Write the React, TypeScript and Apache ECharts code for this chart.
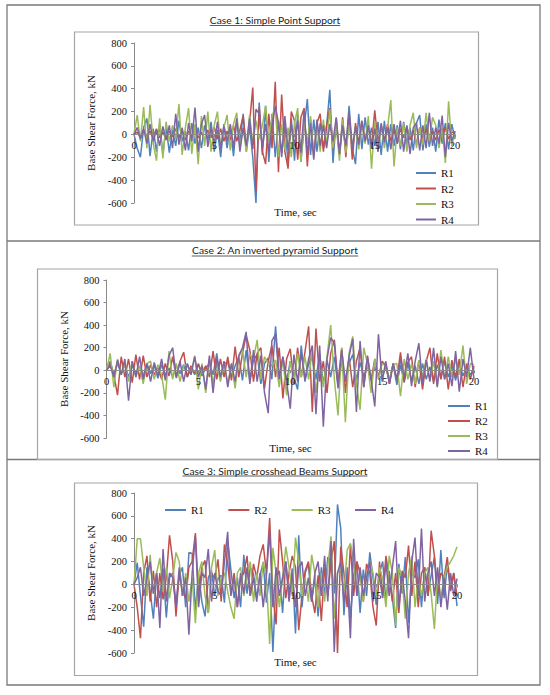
import React, { useEffect, useRef } from "react";
import * as echarts from "echarts";

const TIME = [0,0.2,0.4,0.6,0.8,1,1.2,1.4,1.6,1.8,2,2.2,2.4,2.6,2.8,3,3.2,3.4,3.6,3.8,4,4.2,4.4,4.6,4.8,5,5.2,5.4,5.6,5.8,6,6.2,6.4,6.6,6.8,7,7.2,7.4,7.6,7.8,8,8.2,8.4,8.6,8.8,9,9.2,9.4,9.6,9.8,10,10.2,10.4,10.6,10.8,11,11.2,11.4,11.6,11.8,12,12.2,12.4,12.6,12.8,13,13.2,13.4,13.6,13.8,14,14.2,14.4,14.6,14.8,15,15.2,15.4,15.6,15.8,16,16.2,16.4,16.6,16.8,17,17.2,17.4,17.6,17.8,18,18.2,18.4,18.6,18.8,19,19.2,19.4,19.6,19.8,20];

const SERIES_NAMES = ["R1", "R2", "R3", "R4"];
const COLORS = ["#4F81BD", "#C0504D", "#9BBB59", "#8064A2"];
const TITLES = ["Case 1: Simple Point Support", "Case 2: An inverted pyramid Support", "Case 3: Simple crosshead Beams Support"];
const X_TITLE = "Time, sec";
const Y_TITLE = "Base Shear Force, kN";

// Case 1
const C1_R1 = [0,-120,-200,60,140,-190,50,-150,90,-180, 70,-160,40,-100,120,-60,30,-140,100,-80, 60,-120,80,-50,110,-150,40,-200,90,-120, 60,-190,130,-80,180,-150,70,-200,-600,280, -180,250,-240,180,-200,120,-160,90,-250,140, -230,180,-240,60,310,-180,130,-150,100,-120, 70,390,-250,140,-180,90,-140,250,-120,-260, 180,-130,150,-90,60,-100,110,-180,120,-150, 90,-100,80,-130,110,-90,60,-140,100,170, -140,90,-110,60,-150,130,-80,100,-130,90,-40];
const C1_R2 = [0,20,-30,40,-20,30,-40,50,-30,20, -40,30,-20,50,-30,40,-50,30,-20,40, -30,20,-50,40,-30,60,-40,50,-60,30, -50,80,-60,40,160,-120,100,410,-500,240, -150,-260,180,-120,460,-330,350,-150,-300,200, 120,-220,150,230,-280,130,-180,100,180,-150, 80,230,-130,90,-180,150,-200,190,-220,100, -80,120,-60,80,-100,210,-70,60,-50,90, -60,40,-80,50,-30,70,-50,40,-90,60, -40,50,-60,30,-50,40,-30,60,-40,20,10];
const C1_R3 = [0,170,-60,240,-120,260,-80,-230,140,-210, 110,-60,80,-40,265,-180,60,230,-170,90, -260,160,-100,200,-150,80,200,-120,60,170, -140,90,190,-110,60,-150,170,-80,120,-40, 80,250,-60,150,250,-200,90,-130,60,-200, 100,230,-240,120,-80,160,-200,90,-150,130, -100,220,-120,90,-230,130,-160,80,-100,60, -130,100,-80,160,-300,120,-150,90,-120,60, 300,-280,60,-100,100,-150,80,190,-120,60, -90,190,-60,150,80,-120,60,-250,290,-100,20];
const C1_R4 = [0,60,-40,50,-80,90,-60,40,-100,70, -50,80,-120,180,-90,60,-140,100,-60,235, -150,90,170,-110,60,-80,110,-130,70,-60, 90,-120,140,-150,60,-100,140,-130,220,180, -120,90,-150,80,250,100,-200,160,-140,90, -100,120,-160,210,-180,100,-220,130,-100,80, -120,90,-60,150,-170,80,-100,190,-130,70, -90,110,-60,80,-120,50,-150,100,-70,60, -130,90,-80,120,-150,80,-170,60,100,-140, 80,-120,190,-100,60,-80,165,-200,100,-60,30];

// Case 2
const C2_R1 = [0,80,-40,60,-30,50,-60,40,-20,30, -50,60,-30,40,-70,50,-40,20,-60,40, -30,50,-60,30,-40,60,-50,20,60,-40, 150,-80,60,70,-60,40,120,-90,180,-100, 90,140,-120,60,110,-80,390,-60,120,-100, 80,-60,-170,220,-100,60,110,-80,150,-120, 90,-60,120,-140,80,-100,60,140,-90,70, -60,40,-80,30,-50,-70,40,-100,60,-130, 50,-110,70,-90,40,-120,60,-80,30,-100, 50,-70,80,-60,40,-90,60,-50,30,-40,20];
const C2_R2 = [0,60,-40,-220,120,-60,100,-110,140,-80, 130,-60,50,-40,30,-80,60,-50,120,-70, 80,160,-60,40,-30,50,-20,40,-60,170, -80,100,-60,120,-90,210,-60,150,310,180, -100,150,200,-160,80,220,-60,200,-250,100, 190,-120,200,-60,160,390,-370,370,-100,80, -200,150,270,-120,200,-200,120,-150,80,200, -150,130,-90,100,-60,80,40,-120,60,-80, 160,-100,70,120,-150,90,-170,80,200,-120, 150,-80,120,-170,90,-60,100,-150,60,-80,40];
const C2_R3 = [0,150,-150,100,-40,60,-100,80,-60,40, -120,60,80,-80,50,-40,-260,170,-80,60, -100,40,50,-30,130,-170,60,-200,100,-120, 60,-100,80,-120,60,-160,120,180,-60,140, 100,270,-80,120,60,40,90,-150,100,-220, 80,-100,150,-60,120,-80,180,-200,100,-150, 120,400,-80,-400,200,-460,150,300,-120,-350, 200,60,-200,100,-80,60,40,-80,50,60, -230,100,-80,60,-120,90,-60,100,-90,80, -140,180,-80,120,-60,100,-40,220,-120,60,50];
const C2_R4 = [0,40,-60,90,-40,100,-270,80,-60,120, -80,60,-100,70,-50,100,-90,130,200,-60, 80,-100,60,-40,120,-60,40,-170,130,-200, 110,-60,80,-150,60,-100,130,200,340,-120, 180,-100,130,-200,-380,260,320,-80,120,-100, -340,140,-100,150,-80,100,220,-390,220,-500, 100,290,240,-160,180,-100,120,280,-370,260, -150,120,-80,-320,320,-100,80,-120,60,-90, 100,-60,150,-140,80,240,-120,90,-100,200, -150,120,-80,60,-140,170,-190,100,-60,200,-80];

// Case 3
const C3_R1 = [0,190,-100,-370,150,-60,-300,100,-120,140, -290,60,100,-180,80,150,-200,280,270,-230, 100,-150,-280,60,120,-100,50,80,-160,380, 130,-120,60,-200,260,-80,150,90,-120,80, 190,-160,100,-590,60,120,-250,200,-80,140, -430,430,-200,100,180,-150,60,-280,150,-100, 240,200,-80,700,490,-270,150,-300,80,200, -250,130,-100,280,60,-180,100,200,-150,120, -120,-380,180,-80,240,-340,100,60,220,-200, 150,-100,80,240,-170,300,-120,180,-60,100,-190];
const C3_R2 = [0,-200,-470,100,250,-150,120,-200,100,-130, 60,430,200,-280,100,-60,-120,150,200,450, -100,150,210,-250,100,50,220,-150,350,180, -80,100,-200,60,100,250,-100,180,60,250, 350,100,580,-100,-350,480,200,-120,100,250, 150,-400,-100,120,200,-100,-250,80,-320,150, -100,200,380,-600,330,100,-200,350,-100,200, 100,-150,180,100,-200,-360,200,-100,250,60, -150,100,-250,120,60,340,-100,200,-200,100, 150,-100,470,250,-80,100,60,240,-50,100,-100];
const C3_R3 = [0,400,400,150,-100,260,-80,100,230,-60, 150,-120,50,280,200,-100,100,-150,60,-340, 100,200,-100,-250,150,300,-100,60,100,-60, -200,-300,100,150,-100,60,200,-150,100,-100, 200,60,-520,320,100,-200,60,330,150,-100, 410,200,-100,60,-150,260,100,-200,100,-150, 150,420,-300,100,150,-80,300,360,200,-100, 100,-150,60,200,100,-100,150,50,-200,250, 100,-360,150,60,-300,100,250,-200,60,-100, 100,150,-80,-390,100,-120,60,150,200,250,330];
const C3_R4 = [0,60,150,-100,50,200,-80,100,-380,310, -150,100,60,-200,150,-100,60,-440,100,420, -200,100,60,310,-150,100,-60,-100,200,460, -100,60,-200,100,-80,150,-100,60,-150,100, -200,80,470,-200,150,-100,60,200,-150,100, -200,150,200,-100,60,-150,100,200,-100,250, -150,380,-590,100,200,-150,60,-470,400,-100, 150,-100,60,200,-150,100,60,-120,200,-100, 150,380,-200,100,-150,-470,200,410,-100,490, -150,100,200,-100,150,-200,60,-220,100,-100,50];

const CASES = [
  [C1_R1, C1_R2, C1_R3, C1_R4],
  [C2_R1, C2_R2, C2_R3, C2_R4],
  [C3_R1, C3_R2, C3_R3, C3_R4],
];

const Y_MIN = -600;
const Y_MAX = 800;

const SERIF = "Liberation Serif";
const SANS = "Lato";
const AXIS_COLOR = "#8a8a8a";

function textWidth(s: string, font: string) {
  const c = document.createElement("canvas").getContext("2d");
  if (!c) return s.length * 5;
  c.font = font;
  return c.measureText(s).width;
}

export default function App() {
  const ref = useRef<HTMLDivElement>(null);
  useEffect(() => {
    if (!ref.current) return;
    const chart = echarts.init(ref.current, undefined, { renderer: "svg" });

    const grids = [
      { left: 134, top: 43, width: 321, height: 160 },
      { left: 106.5, top: 280, width: 367.5, height: 158 },
      { left: 134, top: 493, width: 323, height: 160 },
    ];
    const yNameGaps = [33, 33, 33];
    const xTitlePos = [[295.5, 212], [290.5, 448], [295.5, 662]];
    const titlePos = [[275, 19.5, 25.5, 130.5], [275, 249.5, 256, 166.5], [275, 470.5, 476, 185]];
    const boxes = [
      [74.5, 32, 404, 193],
      [37.5, 269, 460, 190.5],
      [74.5, 483, 403, 192.5],
    ];

    const series: any[] = [];
    CASES.forEach((c, gi) => {
      c.forEach((vals, si) => {
        series.push({
          type: "line",
          name: SERIES_NAMES[si],
          xAxisIndex: gi,
          yAxisIndex: gi,
          data: TIME.map((t, i) => [t, vals[i]]),
          showSymbol: false,
          symbol: "none",
          lineStyle: { color: COLORS[si], width: 1.5 },
          itemStyle: { color: COLORS[si] },
          color: COLORS[si],
        });
      });
    });

    const graphic: any[] = [
      { type: "rect", shape: { x: 7, y: 5, width: 533, height: 680 }, style: { fill: "none", stroke: "#7a7a7a", lineWidth: 1.3 } },
      { type: "line", shape: { x1: 7, y1: 241, x2: 540, y2: 241 }, style: { stroke: "#7a7a7a", lineWidth: 1.3 } },
      { type: "line", shape: { x1: 7, y1: 459.5, x2: 540, y2: 459.5 }, style: { stroke: "#7a7a7a", lineWidth: 1.3 } },
    ];
    boxes.forEach((b) => {
      graphic.push({ type: "rect", shape: { x: b[0], y: b[1], width: b[2], height: b[3] }, style: { fill: "none", stroke: "#a6a6a6", lineWidth: 1.2 } });
    });
    TITLES.forEach((t, i) => {
      const [cx, cy, uy, target] = titlePos[i];
      const w10 = textWidth(t, `10px ${SANS}`);
      const fs = Math.max(8, Math.min(13, (10 * target) / (w10 || target)));
      const w = (w10 * fs) / 10;
      graphic.push({ type: "text", style: { text: t, x: cx, y: cy, textAlign: "center", textVerticalAlign: "middle", fontSize: fs, fontFamily: SANS, fill: "#222" } });
      graphic.push({ type: "line", shape: { x1: cx - w / 2, y1: uy, x2: cx + w / 2, y2: uy }, style: { stroke: "#333", lineWidth: 0.8 } });
    });
    xTitlePos.forEach((p) => {
      graphic.push({ type: "text", style: { text: X_TITLE, x: p[0], y: p[1], textAlign: "center", textVerticalAlign: "middle", fontSize: 11, fontFamily: SERIF, fill: "#111" } });
    });

    const legendBase = {
      data: SERIES_NAMES,
      icon: "rect",
      itemHeight: 2,
      textStyle: { fontFamily: SERIF, fontSize: 11, color: "#111", lineHeight: 12 },
    };

    chart.setOption({
      animation: false,
      grid: grids,
      xAxis: grids.map((g, gi) => ({
        type: "value",
        gridIndex: gi,
        min: 0,
        max: 20,
        interval: 5,
        offset: -(g.height * (0 - Y_MIN)) / (Y_MAX - Y_MIN),
        axisLine: { onZero: false, lineStyle: { color: AXIS_COLOR, width: 1 } },
        axisTick: { show: true, length: 3, lineStyle: { color: AXIS_COLOR } },
        axisLabel: { fontFamily: SERIF, fontSize: 10.5, color: "#111", margin: 6 },
        splitLine: { show: false },
        z: 10,
      })),
      yAxis: grids.map((_, gi) => ({
        type: "value",
        gridIndex: gi,
        min: Y_MIN,
        max: Y_MAX,
        interval: 200,
        name: Y_TITLE,
        nameLocation: "middle",
        nameGap: yNameGaps[gi],
        nameRotate: 90,
        nameTextStyle: { fontFamily: SERIF, fontSize: 11, color: "#111" },
        axisLine: { show: true, lineStyle: { color: AXIS_COLOR, width: 1 } },
        axisTick: { show: true, length: 3, lineStyle: { color: AXIS_COLOR } },
        axisLabel: { fontFamily: SERIF, fontSize: 10.5, color: "#111", margin: 7 },
        splitLine: { show: false },
      })),
      legend: [
        { ...legendBase, orient: "vertical", left: 411, top: 162, itemWidth: 20, itemGap: 3.5 },
        { ...legendBase, orient: "vertical", left: 443, top: 395, itemWidth: 22, itemGap: 3 },
        { ...legendBase, orient: "horizontal", left: 160, top: 499, itemWidth: 21, itemGap: 24.5 },
      ],
      series,
      graphic,
    });
    return () => chart.dispose();
  }, []);
  return (
    <div
      ref={ref}
      style={{ position: "absolute", left: 0, top: 0, width: 550, height: 695, background: "#fff" }}
    />
  );
}
